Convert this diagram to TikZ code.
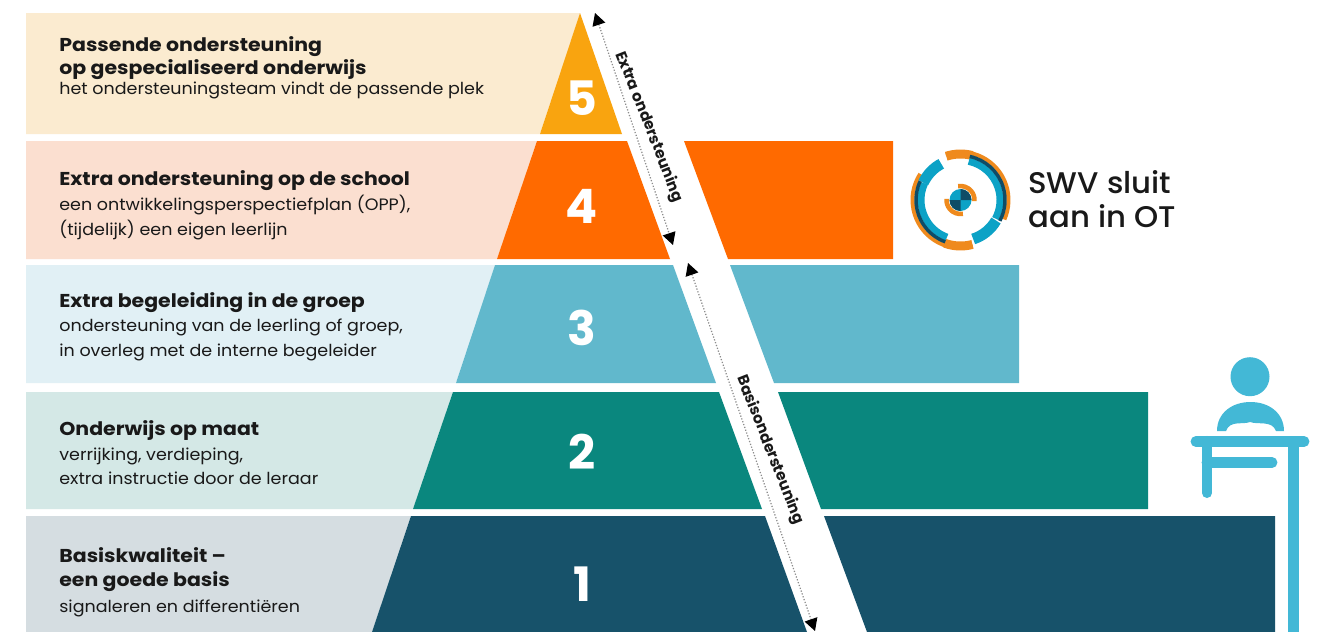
\documentclass[tikz,border=0pt]{standalone}
\usepackage{fontspec}
\setmainfont{Poppins}
\newfontfamily\widef[FakeStretch=1.1]{Poppins}
\newfontfamily\subf[FakeStretch=1.06]{Poppins}
\newfontfamily\swvf[FakeStretch=1.03]{Poppins Medium}
\usetikzlibrary{arrows.meta}
\definecolor{amb}{HTML}{F9A40F}\definecolor{ambl}{HTML}{FBEBD0}
\definecolor{org}{HTML}{FF6A00}\definecolor{orgl}{HTML}{FBDFD0}
\definecolor{sky}{HTML}{61B8CC}\definecolor{skyl}{HTML}{E1F0F5}
\definecolor{tea}{HTML}{0A877E}\definecolor{teal2}{HTML}{D4E8E6}
\definecolor{nav}{HTML}{17526A}\definecolor{navl}{HTML}{D5DDE1}
\definecolor{ppl}{HTML}{43B8D6}
\definecolor{lgo}{HTML}{EF8A1D}\definecolor{lgb}{HTML}{0CA2C6}\definecolor{lgd}{HTML}{0F4C66}
\tikzset{
 x=0.02cm,y=-0.02cm,
 txt/.style={anchor=west,align=left,inner sep=0pt,text=black!90},
 num/.style={text=white,font=\fontsize{27}{27}\selectfont\bfseries,inner sep=0pt},
 arrowline/.style={draw=black!45,densely dotted,line width=0.7pt,{Triangle[black,length=7pt,width=7.5pt]}-{Triangle[black,length=7pt,width=7.5pt]}},
 diag/.style={rotate=-68.5,inner sep=0pt,text=black!90,font=\fontsize{8.7}{9}\selectfont\bfseries},
}
\newcommand{\hdf}{\widef\fontsize{10.6}{15.2}\selectfont\bfseries}
\newcommand{\sbf}{\subf\fontsize{9.4}{15.2}\selectfont\mdseries}
\begin{document}
\begin{tikzpicture}
\useasboundingbox (0,0) rectangle (1323,632);
\fill[white] (0,0) rectangle (1323,632);
% light bands
\fill[ambl] (26,13)--(580,13)--(540,134)--(26,134)--cycle;
\fill[orgl] (26,141)--(537,141)--(497,259)--(26,259)--cycle;
\fill[skyl] (26,265)--(495,265)--(456,383)--(26,383)--cycle;
\fill[teal2] (26,392)--(453,392)--(413,509)--(26,509)--cycle;
\fill[navl] (26,516)--(411,516)--(372,632)--(26,632)--cycle;
% pyramid
\fill[amb] (580,13)--(622,134)--(540,134)--cycle;
\fill[org] (537,141)--(627,141)--(670,259)--(497,259)--cycle;
\fill[org] (684,141)--(893,141)--(893,259)--(728,259)--cycle;
\fill[sky] (495,265)--(673,265)--(716,383)--(456,383)--cycle;
\fill[sky] (730,265)--(1019,265)--(1019,383)--(774,383)--cycle;
\fill[tea] (453,392)--(719,392)--(762,509)--(413,509)--cycle;
\fill[tea] (778,392)--(1148,392)--(1148,509)--(821,509)--cycle;
\fill[nav] (411,516)--(765,516)--(807,632)--(372,632)--cycle;
\fill[nav] (824,516)--(1275,516)--(1275,632)--(867,632)--cycle;
% numbers
\node[num] (n5) at (582,98) {5};
\node[num] (n4) at (582,206) {4};
\node[num] (n3) at (582,328) {3};
\node[num] (n2) at (582,452) {2};
\node[num] (n1) at (582,584) {1};
% texts
\node[txt] (t5) at (59,68) {\hdf Passende ondersteuning\\[1.1pt]\hdf op gespecialiseerd onderwijs\\[-0.5pt]\sbf het ondersteuningsteam vindt de passende plek};
\node[txt] (t4) at (59,205) {\hdf Extra ondersteuning op de school\\[2.3pt]\sbf een ontwikkelingsperspectiefplan (OPP),\\[2.3pt]\sbf (tijdelijk) een eigen leerlijn};
\node[txt] (t3) at (59,326.5) {\hdf Extra begeleiding in de groep\\[2pt]\sbf ondersteuning van de leerling of groep,\\[2pt]\sbf in overleg met de interne begeleider};
\node[txt] (t2) at (59,453) {\hdf Onderwijs op maat\\[2pt]\sbf verrijking, verdieping,\\[2pt]\sbf extra instructie door de leraar};
\node[txt] (t1) at (59,582) {\hdf Basiskwaliteit –\\[2pt]\hdf een goede basis\\[2.5pt]\sbf signaleren en differentiëren};
% diagonal arrows
\coordinate (a1) at (595,13);
\coordinate (a2) at (673,245);
\coordinate (b1) at (688,263);
\coordinate (b2) at (815,631);
\draw[arrowline] (a1)--(a2);
\draw[arrowline] (b1)--(b2);
\node[diag] (d1) at (649,127) {Extra ondersteuning};
\node[diag] (d2) at (770,450) {Basisondersteuning};
% logo
\coordinate (c) at (960.5,200);
\begin{scope}[shift={(c)},x=0.02cm,y=0.02cm,line cap=butt]
 \foreach \a/\b/\r/\w/\col in {
   108/-24/48/4/lgo, 108/75/46/9/lgo, 147/285/48/4/lgo, 285/250/46/9/lgo,
   118/155/41/11/lgb, -30/-72/41/11/lgb,
   78/-28/39.5/7/lgb, 155/250/39.5/7/lgb,
   78/-28/44.5/3.5/lgd, 155/250/44.5/3.5/lgd}
 { \draw[draw=\col,line width=\w*0.5669pt] (\a:\r) arc[start angle=\a,end angle=\b,radius=\r]; }
 \fill[lgb] (0,0) circle[radius=11];
 \fill[lgd] (0,0)--(11,0) arc[start angle=0,end angle=90,radius=11]--cycle;
 \fill[lgd] (0,0)--(-11,0) arc[start angle=180,end angle=270,radius=11]--cycle;
 \draw[lgo,line width=2.6pt] (100:14) arc[start angle=100,end angle=-5,radius=14];
 \draw[lgo,line width=2.6pt] (280:14) arc[start angle=280,end angle=175,radius=14];
\end{scope}
\node[anchor=west,align=left,inner sep=0pt,text=black!90,font=\swvf\fontsize{17}{19}\selectfont] (swv) at (1028,199) {SWV sluit\\aan in OT};
% person
\fill[ppl] (1250,376.7) circle[radius=19.5];
\fill[ppl] (1217,431) .. controls (1217,413) and (1232,402) .. (1250.5,402) .. controls (1269,402) and (1284,413) .. (1284,431)--(1276,431) .. controls (1272,420) and (1258,425) .. (1250,422) .. controls (1242,425) and (1230,420) .. (1226,431)--cycle;
\draw[ppl,line width=6.2pt,line cap=round] (1196,441.5)--(1304,441.5);
\draw[ppl,line width=5.7pt,line cap=round] (1207,441)--(1207,493);
\draw[ppl,line width=6.2pt,line cap=round] (1207,462.5)--(1272,462.5);
\draw[ppl,line width=6.2pt] (1293.5,441)--(1293.5,632);
\end{tikzpicture}
\end{document}
